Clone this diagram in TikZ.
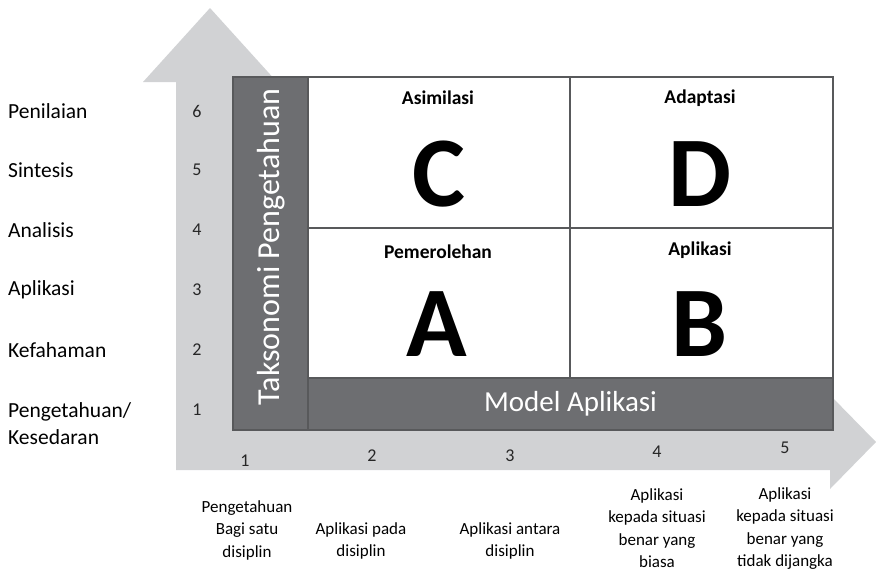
\documentclass[tikz,border=0pt]{standalone}
\usepackage{fontspec}
\setmainfont{Carlito}
\definecolor{arrowgrey}{HTML}{D1D2D4}
\definecolor{bargrey}{HTML}{6D6E71}
\definecolor{edgegrey}{HTML}{58595B}
\tikzset{
  cell/.style={draw=edgegrey, line width=1.6pt, fill=white, inner sep=0pt,
    minimum width=262pt, minimum height=151pt},
  band/.style={draw=edgegrey, line width=1.6pt, fill=bargrey, text=white, inner sep=0pt},
  level/.style={anchor=west, align=left, inner sep=0pt, font=\fontsize{21.5}{27}\selectfont},
  num/.style={inner sep=0pt, font=\fontsize{18}{20}\selectfont, text=black!85},
  kind/.style={anchor=north, align=center, inner sep=0pt, font=\fontsize{17}{22.5}\selectfont},
  celltitle/.style={inner sep=0pt, font=\bfseries\fontsize{19.5}{22}\selectfont},
  letter/.style={inner sep=0pt, font=\bfseries\fontsize{100}{100}\selectfont}
}
\begin{document}
\begin{tikzpicture}[x=1pt, y=-1pt]
  \useasboundingbox (0,0) rectangle (876,587);

  % the two grey axis arrows
  \fill[arrowgrey] (176,470) -- (176,82) -- (143,82) -- (210,8) -- (277,82)
    -- (244,82) -- (244,414) -- (830,414) -- (830,395) -- (876,442)
    -- (830,489) -- (830,470) -- cycle;

  % grid of cells
  \node[cell] (asim) at (439,152.5) {};
  \node[cell, minimum width=263pt] (adap) at (701.5,152.5) {};
  \node[cell, minimum height=150pt] (perol) at (439,303) {};
  \node[cell, minimum width=263pt, minimum height=150pt] (apl) at (701.5,303) {};

  \node[celltitle] (asimt) at (438,98) {Asimilasi};
  \node[letter] (asiml) at (439,174) {C};
  \node[celltitle] (adapt) at (700,98) {Adaptasi};
  \node[letter] (adapl) at (700,174) {D};
  \node[celltitle] (perolt) at (438,252) {Pemerolehan};
  \node[letter] (perocl) at (437,324) {A};
  \node[celltitle] (aplt) at (700,250) {Aplikasi};
  \node[letter] (aplil) at (700,324) {B};

  % dark bands
  \node[band, minimum width=75pt, minimum height=353pt] (tax) at (270.5,253.5) {};
  \node[rotate=90, text=white, font=\fontsize{32}{33}\selectfont] (taxt) at (271,247) {Taksonomi Pengetahuan};
  \node[band, minimum width=525pt, minimum height=52pt, font=\fontsize{29}{30}\selectfont] (model) at (570.5,404) {Model Aplikasi};

  % levels on the left
  \node[level] (l6) at (8,111) {Penilaian};
  \node[level] (l5) at (8,170) {Sintesis};
  \node[level] (l4) at (8,230) {Analisis};
  \node[level] (l3) at (8,290) {Aplikasi};
  \node[level] (l2) at (8,350) {Kefahaman};
  \node[level] (l1) at (8,423.5) {Pengetahuan/\\Kesedaran};
  \foreach \n/\y in {6/111, 5/170, 4/230, 3/290, 2/350, 1/410}
    \node[num] (n\n) at (197,\y) {\n};

  % steps along the bottom
  \foreach \n/\x/\y in {1/245/461, 2/372/456, 3/510/456, 4/657/452, 5/785/448}
    \node[num] (m\n) at (\x,\y) {\n};
  \node[kind] (k1) at (247,500) {Pengetahuan\\Bagi satu\\disiplin};
  \node[kind] (k2) at (361,522) {Aplikasi pada\\disiplin};
  \node[kind] (k3) at (510,522) {Aplikasi antara\\disiplin};
  \node[kind] (k4) at (657,488) {Aplikasi\\kepada situasi\\benar yang\\biasa};
  \node[kind] (k5) at (785,487) {Aplikasi\\kepada situasi\\benar yang\\tidak dijangka};
\end{tikzpicture}
\end{document}
